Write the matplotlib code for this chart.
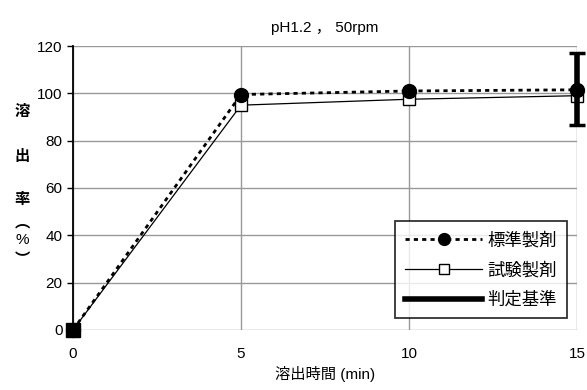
import numpy as np
import matplotlib
matplotlib.use('Agg')
import matplotlib.pyplot as plt

plt.rcParams['font.family'] = ['Liberation Sans', 'Noto Sans CJK JP']

times = [0, 5, 10, 15]
standard = [0, 99.5, 101.0, 101.5]
test = [0, 95.0, 97.5, 99.0]
crit_time = [15]
crit_center = [101.8]
crit_err = [15.3]
ylabel_chars = ['溶', '出', '率', '︵', '%', '︶']

fig = plt.figure(figsize=(5.87, 3.9), dpi=100)
ax = fig.add_axes([0.1244, 0.154, 0.8586, 0.728])

ax.plot(times, standard, linestyle=(0, (1.5, 1.5)), color='black', linewidth=2,
        marker='o', markersize=10, markerfacecolor='black', label='標準製剤',
        zorder=4, clip_on=False)
ax.plot(times, test, linestyle='-', color='black', linewidth=0.9,
        marker='s', markersize=9, markerfacecolor='white', markeredgewidth=1,
        label='試験製剤', zorder=3, clip_on=False)
# origin point shows as a solid square
ax.plot(times[0], test[0], marker='s', markersize=10, color='black',
        zorder=6, clip_on=False)
ax.errorbar(crit_time, crit_center, yerr=crit_err, fmt='none', ecolor='black',
            elinewidth=4, capsize=6, capthick=2.5, zorder=5, clip_on=False)
ax.plot([], [], color='black', linewidth=4, label='判定基準')

ax.set_xlim(0, 15)
ax.set_ylim(0, 120)
ax.set_xticks([0, 5, 10, 15])
ax.set_yticks(np.arange(0, 121, 20))
ax.grid(True, color='#999999', linewidth=1)
ax.set_axisbelow(True)
for s in ['top', 'right', 'bottom']:
    ax.spines[s].set_visible(False)
ax.spines['left'].set_linewidth(1.3)
ax.tick_params(axis='x', length=0, pad=12, labelsize=11)
ax.tick_params(axis='y', length=4, width=1, labelsize=11)
ax.patch.set_alpha(0)

ax.set_title('pH1.2 ， 50rpm', fontsize=11, pad=10)
ax.set_xlabel('溶出時間 (min)', fontsize=11, labelpad=4)
ypix = [112, 157, 200, 222, 240, 260]
for ch, yp in zip(ylabel_chars, ypix):
    fig.text(22 / 587, 1 - yp / 390, ch, fontsize=11, ha='center', va='center',
             fontweight='bold' if ch != '%' else 'normal')

leg = ax.legend(loc='lower right', bbox_to_anchor=(0.980, 0.042), borderaxespad=0,
                fontsize=12.5, frameon=True, fancybox=False, edgecolor='black',
                handlelength=4.4, handletextpad=0.3, borderpad=0.6,
                labelspacing=0.75, markerscale=0.85)
leg.get_frame().set_linewidth(1.3)

fig.savefig('out.png', dpi=100)
